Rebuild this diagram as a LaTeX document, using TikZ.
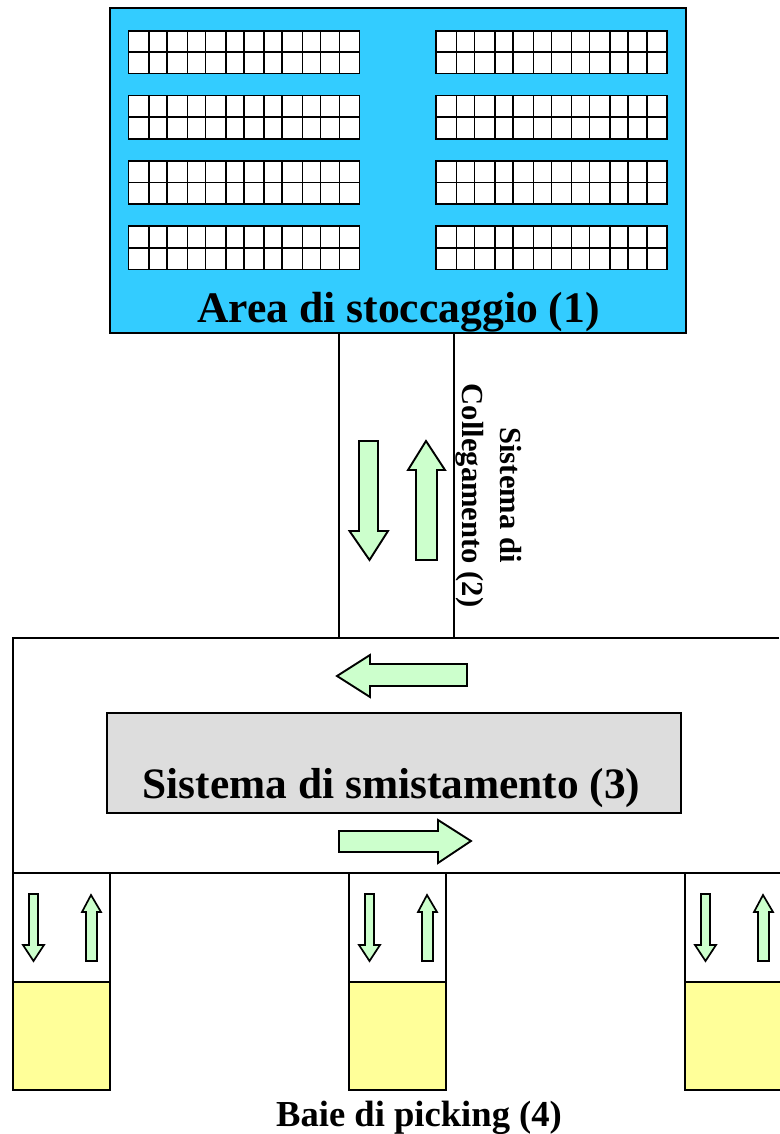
\documentclass[tikz,border=0pt]{standalone}
\usepackage{fontspec}
\setmainfont{Liberation Serif}
\definecolor{areablue}{HTML}{33CCFF}
\definecolor{arrowgreen}{HTML}{CCFFCC}
\definecolor{bayyellow}{HTML}{FFFF99}
\definecolor{sortgrey}{HTML}{DDDDDD}
\tikzset{
  outline/.style={draw=black,line width=2pt,line join=miter},
  cellline/.style={draw=black,line width=1.9pt},
  flowarrow/.style={draw=black,line width=1.9pt,fill=arrowgreen,line join=miter},
  thinarrow/.style={draw=black,line width=1.7pt,fill=arrowgreen,line join=miter},
  label/.style={text=black,inner sep=0pt,anchor=base}
}
\newcommand{\shelf}[4]{% x0,x1,y0,y1
  \fill[white] (#1,#3) rectangle (#2,#4);
  \draw[cellline] (#1,#3) rectangle (#2,#4);
  \draw[cellline] (#1,{(#3+#4)/2}) -- (#2,{(#3+#4)/2});
  \foreach \cx in {149,167,187.5,205.5,226,244,264,282,302.5,320.5,339.5}
    \draw[cellline] ({\cx-128.5+#1},#3) -- ({\cx-128.5+#1},#4);
}
\newcommand{\bay}[1]{% x offset
  \begin{scope}[xshift=#1pt]
    \draw[outline] (13,873) rectangle (110,982);
    \draw[outline,fill=bayyellow] (13,982) rectangle (110,1090);
    \draw[thinarrow] (29,894) -- (38,894) -- (38,945) -- (44,945) -- (33.5,961) -- (23,945) -- (29,945) -- cycle;
    \draw[thinarrow] (86,961) -- (97,961) -- (97,912) -- (101,912) -- (91,895) -- (82,912) -- (86,912) -- cycle;
  \end{scope}
}
\begin{document}
\begin{tikzpicture}[x=1pt,y=-1pt]
\useasboundingbox (0,0) rectangle (779,1134);
\fill[white] (0,0) rectangle (779,1134);
% storage area
\draw[outline,fill=areablue] (110,8) rectangle (686,333);
\foreach \sx in {128.5,436}{
  \shelf{\sx}{\sx+231}{31}{73.5}
  \shelf{\sx}{\sx+231}{95.5}{139}
  \shelf{\sx}{\sx+231}{161}{204}
  \shelf{\sx}{\sx+231}{226}{269.5}
}
\node[label,font=\bfseries\fontsize{43.6}{44}\selectfont] (area) at (398.5,322) {Area di stoccaggio (1)};
% link
\draw[outline] (339,333) -- (339,638);
\draw[outline] (454,333) -- (454,638);
\draw[flowarrow] (359,441) -- (378,441) -- (378,531) -- (388,531) -- (369.5,560) -- (349.5,531) -- (359,531) -- cycle;
\draw[flowarrow] (416,560) -- (437,560) -- (437,470) -- (445,470) -- (426,441) -- (408,470) -- (416,470) -- cycle;
\node[label,rotate=-90,font=\bfseries\fontsize{30.6}{31}\selectfont] (link1) at (500,495) {Sistema di};
\node[label,rotate=-90,font=\bfseries\fontsize{30.6}{31}\selectfont] (link2) at (462,495.5) {Collegamento (2)};
% sorting
\draw[outline] (779,638) -- (13,638) -- (13,873) -- (779,873);
\draw[outline,fill=sortgrey] (107,713) rectangle (681,813);
\node[label,font=\bfseries\fontsize{43.4}{44}\selectfont] (sort) at (391.5,798) {Sistema di smistamento (3)};
\draw[flowarrow] (467,664) -- (467,686) -- (370,686) -- (370,697) -- (337,676) -- (370,655) -- (370,664) -- cycle;
\draw[flowarrow] (339,831) -- (339,852) -- (438,852) -- (438,863) -- (471,841) -- (438,820) -- (438,831) -- cycle;
% bays
\bay{0}
\bay{336}
\bay{672}
\node[label,font=\bfseries\fontsize{36.6}{37}\selectfont] (bays) at (419,1126) {Baie di picking (4)};
\end{tikzpicture}
\end{document}
